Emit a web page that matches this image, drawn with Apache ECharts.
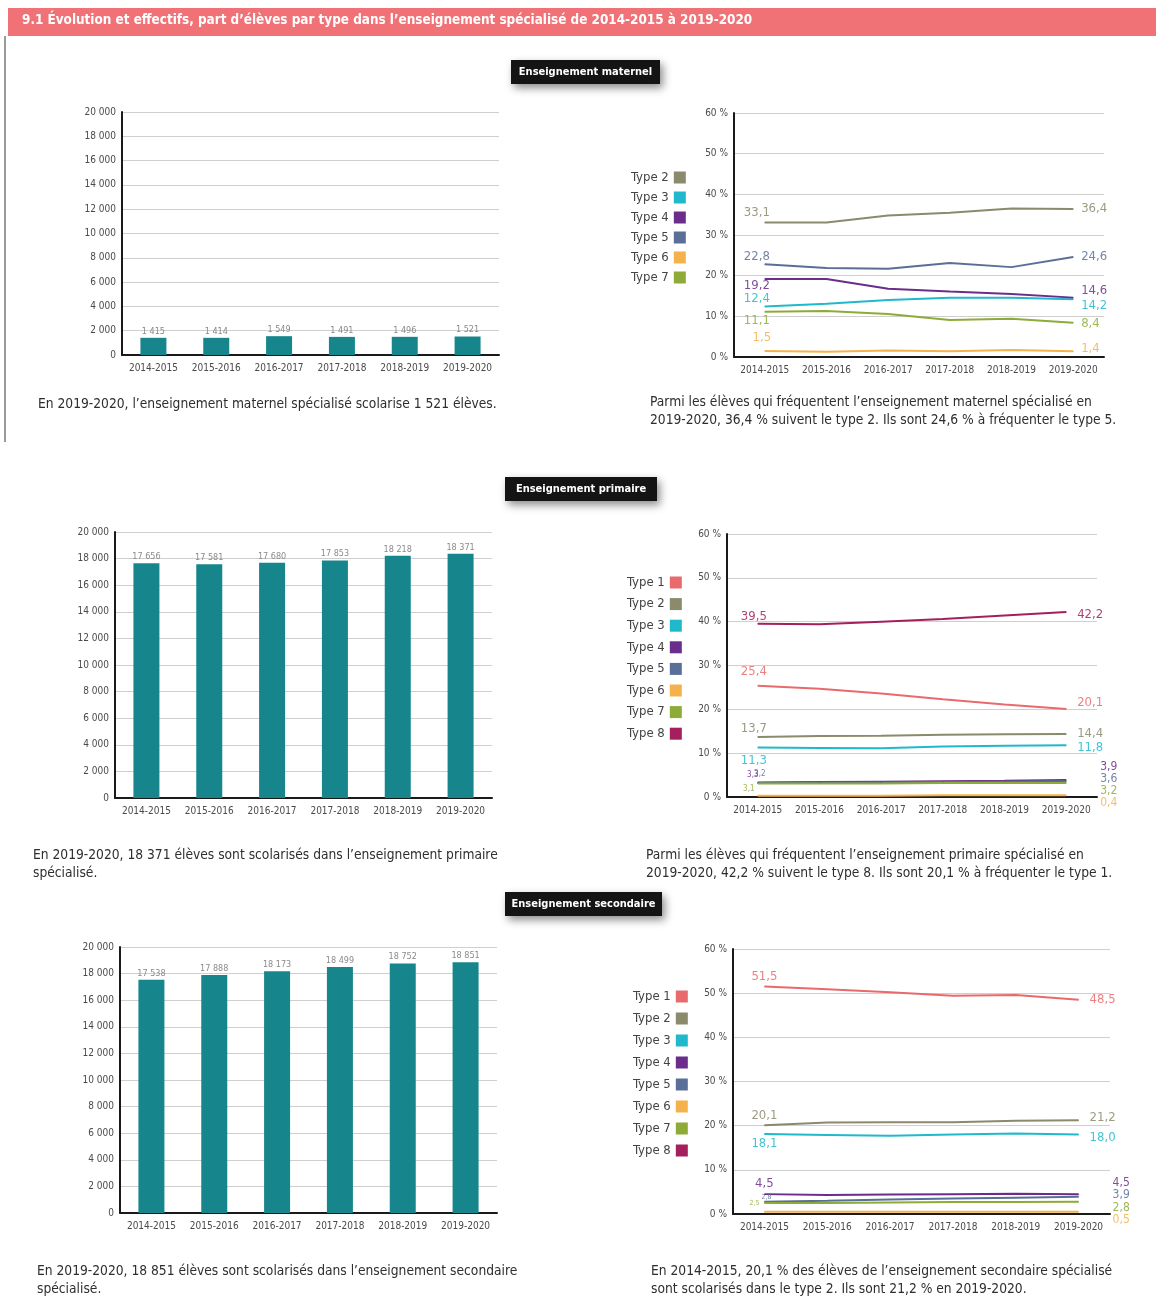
<!DOCTYPE html>
<html>
<head>
<meta charset="utf-8">
<script src="https://cdn.jsdelivr.net/npm/echarts@6/dist/echarts.min.js"></script>
<style>
  html, body { margin: 0; padding: 0; background: #ffffff; }
  #chart { width: 1156px; height: 1305px; }
</style>
</head>
<body>
<div id="chart"></div>
<script>
// ---- Données ----
const years = ['2014-2015', '2015-2016', '2016-2017', '2017-2018', '2018-2019', '2019-2020'];
const typeNames = ['Type 1', 'Type 2', 'Type 3', 'Type 4', 'Type 5', 'Type 6', 'Type 7', 'Type 8'];
const effectifTicks = [0, 2000, 4000, 6000, 8000, 10000, 12000, 14000, 16000, 18000, 20000];
const partTicks = [0, 10, 20, 30, 40, 50, 60];

// Effectifs (élèves)
const effectifsMaternel = [1415, 1414, 1549, 1491, 1496, 1521];
const effectifsPrimaire = [17656, 17581, 17680, 17853, 18218, 18371];
const effectifsSecondaire = [17538, 17888, 18173, 18499, 18752, 18851];

// Parts par type (%) - maternel
const maternelType2 = [33.1, 33.1, 34.8, 35.5, 36.5, 36.4];
const maternelType3 = [12.4, 13.1, 14.0, 14.6, 14.6, 14.2];
const maternelType4 = [19.2, 19.2, 16.8, 16.1, 15.5, 14.6];
const maternelType5 = [22.8, 21.9, 21.7, 23.1, 22.1, 24.6];
const maternelType6 = [1.5, 1.3, 1.6, 1.4, 1.7, 1.4];
const maternelType7 = [11.1, 11.3, 10.6, 9.1, 9.4, 8.4];

// Parts par type (%) - primaire
const primaireType1 = [25.4, 24.7, 23.6, 22.3, 21.1, 20.1];
const primaireType2 = [13.7, 13.9, 14.0, 14.2, 14.3, 14.4];
const primaireType3 = [11.3, 11.2, 11.1, 11.5, 11.7, 11.8];
const primaireType4 = [3.3, 3.4, 3.5, 3.6, 3.7, 3.9];
const primaireType5 = [3.2, 3.3, 3.3, 3.4, 3.5, 3.6];
const primaireType6 = [0.3, 0.3, 0.3, 0.4, 0.4, 0.4];
const primaireType7 = [3.1, 3.1, 3.1, 3.2, 3.2, 3.2];
const primaireType8 = [39.5, 39.4, 40.0, 40.6, 41.4, 42.2];

// Parts par type (%) - secondaire
const secondaireType1 = [51.5, 50.9, 50.2, 49.4, 49.6, 48.5];
const secondaireType2 = [20.1, 20.7, 20.8, 20.8, 21.1, 21.2];
const secondaireType3 = [18.1, 17.9, 17.7, 18.0, 18.2, 18.0];
const secondaireType4 = [4.5, 4.3, 4.4, 4.5, 4.6, 4.5];
const secondaireType5 = [2.8, 3.0, 3.3, 3.5, 3.7, 3.9];
const secondaireType6 = [0.5, 0.5, 0.5, 0.5, 0.5, 0.5];
const secondaireType7 = [2.5, 2.5, 2.6, 2.7, 2.7, 2.8];

// ---- Style ----
const FONT = '"DejaVu Sans Condensed", "Liberation Sans Narrow", "Open Sans", sans-serif';
const typeColors = {
  'Type 1': '#e96a6d',
  'Type 2': '#8b8a6c',
  'Type 3': '#20b9cc',
  'Type 4': '#6b2d8b',
  'Type 5': '#5a6f97',
  'Type 6': '#f5b24c',
  'Type 7': '#8eab38',
  'Type 8': '#a3205c'
};
const BAR_COLOR = '#17868c';

const fmtThousands = v => String(v).replace(/\B(?=(\d{3})+(?!\d))/g, ' ');
const fmtPct = v => v.toFixed(1).replace('.', ',');

// Grilles : 0-1 maternel, 2-3 primaire, 4-5 secondaire
const grids = [
  { left: 122, top: 112, width: 377, height: 243 },
  { left: 734, top: 113, width: 370, height: 244 },
  { left: 115, top: 532, width: 377, height: 266 },
  { left: 727, top: 534, width: 370, height: 263 },
  { left: 120, top: 947, width: 377, height: 266 },
  { left: 733, top: 949, width: 377, height: 265 }
];

const axisLine = { show: true, lineStyle: { color: '#1a1a1a', width: 2 } };
const splitLine = { show: true, lineStyle: { color: '#cfcfcf', width: 1 } };
const tickLabel = { fontFamily: FONT, fontSize: 10, color: '#4a4a4a' };

const xAxes = grids.map((g, i) => ({
  type: 'category', gridIndex: i, data: years,
  axisLine: axisLine, axisTick: { show: false },
  axisLabel: Object.assign({ margin: 8, interval: 0, hideOverlap: false }, tickLabel)
}));

const yAxes = grids.map((g, i) => {
  const isBar = i % 2 === 0;
  const ticks = isBar ? effectifTicks : partTicks;
  return {
    type: 'value', gridIndex: i,
    min: ticks[0], max: ticks[ticks.length - 1], interval: ticks[1] - ticks[0],
    axisLine: axisLine, axisTick: { show: false }, splitLine: splitLine,
    axisLabel: Object.assign({
      margin: 6,
      formatter: isBar ? (v => fmtThousands(v)) : (v => v + ' %')
    }, tickLabel)
  };
});

function barSeries(data, idx) {
  return {
    type: 'bar', xAxisIndex: idx, yAxisIndex: idx, data: data,
    barWidth: 26, itemStyle: { color: BAR_COLOR },
    label: {
      show: true, position: 'top', distance: 2,
      fontFamily: FONT, fontSize: 9, color: '#8a8a8a',
      formatter: p => fmtThousands(p.value)
    },
    z: 3
  };
}

// start / end : [dx, dy, taille] du libellé de valeur, relatif au point
function lineSeries(name, data, idx, start, end) {
  const color = typeColors[name];
  const items = data.map((v, i) => {
    const item = { value: v };
    const spec = i === 0 ? start : (i === data.length - 1 ? end : null);
    if (spec) {
      item.label = {
        show: true, position: 'inside',
        offset: [spec[0], spec[1]],
        align: i === 0 ? 'center' : 'left', verticalAlign: 'middle',
        fontFamily: FONT, fontSize: spec[2] || 13, color: color, opacity: 0.85,
        formatter: p => fmtPct(p.value)
      };
    }
    return item;
  });
  return {
    type: 'line', name: name, xAxisIndex: idx, yAxisIndex: idx, data: items,
    symbol: 'circle', symbolSize: 1, showSymbol: true,
    itemStyle: { color: color }, lineStyle: { color: color, width: 2 },
    label: { show: false }, z: 4, animation: false
  };
}

const series = [
  barSeries(effectifsMaternel, 0),
  lineSeries('Type 2', maternelType2, 1, [-8, -10], [8, 0]),
  lineSeries('Type 3', maternelType3, 1, [-8, -8], [8, 6]),
  lineSeries('Type 4', maternelType4, 1, [-8, 7], [8, -7]),
  lineSeries('Type 5', maternelType5, 1, [-8, -8], [8, 0]),
  lineSeries('Type 6', maternelType6, 1, [-3, -13], [8, -3]),
  lineSeries('Type 7', maternelType7, 1, [-8, 9], [8, 1]),

  barSeries(effectifsPrimaire, 2),
  lineSeries('Type 1', primaireType1, 3, [-4, -14], [11, -6]),
  lineSeries('Type 2', primaireType2, 3, [-4, -8], [11, 0]),
  lineSeries('Type 3', primaireType3, 3, [-4, 13], [11, 2]),
  lineSeries('Type 4', primaireType4, 3, [-5, -8, 8], [34, -13, 12]),
  lineSeries('Type 5', primaireType5, 3, [2, -9, 8], [34, -2, 12]),
  lineSeries('Type 6', primaireType6, 3, null, [34, 8, 12]),
  lineSeries('Type 7', primaireType7, 3, [-9, 6, 8], [34, 8, 12]),
  lineSeries('Type 8', primaireType8, 3, [-4, -7], [11, 3]),

  barSeries(effectifsSecondaire, 4),
  lineSeries('Type 1', secondaireType1, 5, [0, -10], [11, 0]),
  lineSeries('Type 2', secondaireType2, 5, [0, -10], [11, -3]),
  lineSeries('Type 3', secondaireType3, 5, [0, 10], [11, 3]),
  lineSeries('Type 4', secondaireType4, 5, [0, -11], [34, -11, 12]),
  lineSeries('Type 5', secondaireType5, 5, [2, -4, 7], [34, -2, 12]),
  lineSeries('Type 6', secondaireType6, 5, null, [34, 8, 12]),
  lineSeries('Type 7', secondaireType7, 5, [-10, 0, 7], [34, 6, 12])
];

function legendAt(names, left, top, gap) {
  return {
    data: names, left: left, top: top, orient: 'vertical', align: 'right',
    icon: 'rect', itemWidth: 12, itemHeight: 12, itemGap: gap,
    selectedMode: false,
    textStyle: { fontFamily: FONT, fontSize: 13, color: '#444' }
  };
}

function sectionLabel(text, x, y, w) {
  return {
    type: 'group', left: x, top: y,
    children: [
      { type: 'rect', shape: { x: 0, y: 0, width: w, height: 24 },
        style: { fill: '#141414', shadowBlur: 8, shadowOffsetX: 3, shadowOffsetY: 4, shadowColor: 'rgba(0,0,0,0.45)' } },
      { type: 'text', style: { x: w / 2, y: 12, text: text, fill: '#ffffff', align: 'center', verticalAlign: 'middle',
        font: 'bold 11px ' + FONT } }
    ]
  };
}

function caption(lines, x, y) {
  return {
    type: 'text', left: x, top: y,
    style: { text: lines.join('\n'), fill: '#2e2e2e', lineHeight: 18, font: '13.7px ' + FONT }
  };
}

const graphic = [
  { type: 'rect', shape: { x: 8, y: 8, width: 1148, height: 28 }, style: { fill: '#f07276' } },
  { type: 'text', left: 22, top: 14,
    style: { text: '9.1 Évolution et effectifs, part d\u2019élèves par type dans l\u2019enseignement spécialisé de 2014-2015 à 2019-2020',
      fill: '#ffffff', font: 'bold 13.4px ' + FONT } },
  { type: 'line', shape: { x1: 5, y1: 36, x2: 5, y2: 442 }, style: { stroke: '#9a9a9a', lineWidth: 2 } },

  sectionLabel('Enseignement maternel', 511, 60, 149),
  sectionLabel('Enseignement primaire', 505, 477, 152),
  sectionLabel('Enseignement secondaire', 505, 892, 157),

  caption(['En 2019-2020, l\u2019enseignement maternel spécialisé scolarise 1 521 élèves.'], 38, 395),
  caption(['Parmi les élèves qui fréquentent l\u2019enseignement maternel spécialisé en',
           '2019-2020, 36,4 % suivent le type 2. Ils sont 24,6 % à fréquenter le type 5.'], 650, 393),
  caption(['En 2019-2020, 18 371 élèves sont scolarisés dans l\u2019enseignement primaire',
           'spécialisé.'], 33, 846),
  caption(['Parmi les élèves qui fréquentent l\u2019enseignement primaire spécialisé en',
           '2019-2020, 42,2 % suivent le type 8. Ils sont 20,1 % à fréquenter le type 1.'], 646, 846),
  caption(['En 2019-2020, 18 851 élèves sont scolarisés dans l\u2019enseignement secondaire',
           'spécialisé.'], 37, 1262),
  caption(['En 2014-2015, 20,1 % des élèves de l\u2019enseignement secondaire spécialisé',
           'sont scolarisés dans le type 2. Ils sont 21,2 % en 2019-2020.'], 651, 1262)
];

const chart = echarts.init(document.getElementById('chart'), null, { renderer: 'canvas' });
chart.setOption({
  backgroundColor: '#ffffff',
  animation: false,
  textStyle: { fontFamily: FONT },
  grid: grids,
  xAxis: xAxes,
  yAxis: yAxes,
  legend: [
    legendAt(typeNames.slice(1, 7), 626, 166, 7),
    legendAt(typeNames, 622, 571, 8.6),
    legendAt(typeNames, 628, 985, 9)
  ],
  series: series,
  graphic: graphic
});
</script>
</body>
</html>
